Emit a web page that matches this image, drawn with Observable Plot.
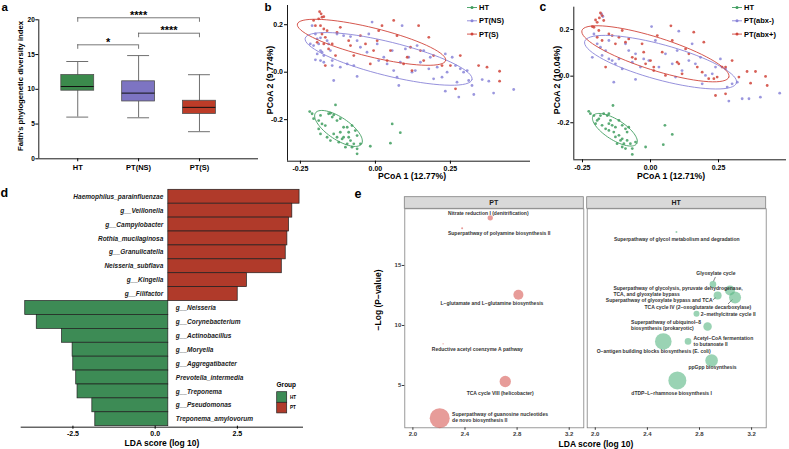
<!DOCTYPE html>
<html>
<head>
<meta charset="utf-8">
<script src="https://cdn.jsdelivr.net/npm/d3@7"></script>
<script src="https://cdn.jsdelivr.net/npm/@observablehq/plot@0.6"></script>
<style>
  html, body { margin: 0; padding: 0; background: white; }
  #fig { position: relative; width: 789px; height: 449px; background: white; overflow: hidden; }
</style>
</head>
<body>
<div id="fig"></div>
<script>
// ---------------- DATA ----------------
// Panel a: Faith's PD boxplots
const groupsA = ["HT", "PT(NS)", "PT(S)"];
const whiskerLow = [6.0, 5.9, 3.9];
const q1A = [9.8, 8.25, 6.45];
const medianA = [10.4, 9.45, 7.4];
const q3A = [12.05, 11.15, 8.35];
const whiskerHigh = [14.0, 14.85, 12.1];
const sigFrom = ["HT", "PT(NS)", "HT"];
const sigTo = ["PT(NS)", "PT(S)", "PT(S)"];
const sigLabel = ["*", "****", "****"];
const sigLevel = [16.4, 18.07, 20.29];

// Panel b: PCoA (smoking)
const groupsB = ["HT", "PT(NS)", "PT(S)"];
const bHT = [[-0.219,-0.166],[-0.211,-0.175],[-0.206,-0.196],[-0.189,-0.204],[-0.183,-0.182],[-0.178,-0.218],[-0.156,-0.175],[-0.150,-0.173],[-0.144,-0.189],[-0.139,-0.180],[-0.128,-0.204],[-0.117,-0.196],[-0.106,-0.232],[-0.094,-0.232],[-0.089,-0.253],[-0.078,-0.225],[-0.067,-0.246],[-0.061,-0.267],[-0.183,-0.260],[-0.161,-0.274],[-0.150,-0.288],[-0.139,-0.260],[-0.128,-0.274],[-0.122,-0.295],[-0.111,-0.281],[-0.106,-0.274],[-0.094,-0.302],[-0.083,-0.288],[-0.072,-0.302],[-0.061,-0.323],[-0.050,-0.302],[-0.061,-0.344],[-0.133,-0.138],[-0.017,-0.312],[0.056,-0.218],[0.050,-0.299],[0.083,-0.255],[-0.189,-0.239],[-0.167,-0.225],[-0.117,-0.253],[-0.089,-0.274],[-0.078,-0.316],[-0.100,-0.316]];
const bNS = [[-0.211,0.196],[-0.200,0.161],[-0.194,0.140],[-0.189,0.119],[-0.206,0.112],[-0.183,0.091],[-0.178,0.084],[-0.194,0.077],[-0.172,0.070],[-0.161,0.133],[-0.156,0.119],[-0.150,0.091],[-0.144,0.049],[-0.183,0.049],[-0.172,0.042],[-0.144,0.028],[-0.117,0.021],[-0.094,0.035],[-0.072,0.028],[-0.128,0.161],[-0.106,0.154],[-0.083,0.150],[-0.061,0.133],[-0.050,0.105],[-0.028,0.084],[-0.022,0.161],[-0.011,0.211],[0.006,0.119],[0.011,0.049],[0.028,0.063],[0.039,0.035],[0.056,0.091],[0.061,0.007],[0.072,-0.021],[0.083,0.042],[0.089,0.196],[0.100,0.098],[0.111,0.063],[0.122,0.000],[0.133,0.007],[0.139,0.112],[0.150,0.042],[0.161,0.091],[0.178,0.014],[0.183,0.063],[0.194,-0.028],[0.206,0.021],[0.222,-0.021],[0.233,0.077],[0.239,0.000],[0.256,0.063],[0.267,0.028],[0.272,-0.042],[0.283,0.014],[0.294,0.000],[0.306,0.007],[0.311,-0.035],[0.322,-0.056],[0.278,-0.105],[0.233,-0.080],[0.356,-0.031],[0.378,-0.038],[0.394,-0.088],[0.461,-0.073],[0.328,-0.094],[0.078,-0.056],[-0.139,-0.035],[-0.061,-0.018],[-0.183,0.145],[-0.217,0.119],[-0.200,0.052]];
const bS = [[-0.186,0.255],[-0.181,0.246],[-0.178,0.232],[-0.189,0.225],[-0.172,0.234],[-0.206,0.218],[-0.200,0.196],[-0.183,0.196],[-0.172,0.182],[-0.161,0.175],[-0.178,0.161],[-0.167,0.147],[-0.194,0.126],[-0.172,0.119],[-0.156,0.098],[-0.144,0.119],[-0.133,0.070],[-0.117,0.189],[-0.089,0.133],[-0.083,0.112],[-0.072,0.070],[-0.050,0.154],[-0.033,0.119],[-0.017,0.035],[-0.006,0.091],[0.006,0.133],[0.011,0.175],[0.022,0.196],[0.039,0.049],[0.050,0.091],[0.061,0.218],[0.072,0.154],[0.094,0.035],[0.106,0.063],[0.117,0.105],[0.144,0.196],[0.150,0.091],[0.161,0.049],[0.178,0.147],[0.194,0.070],[0.222,0.028],[0.250,0.028],[0.283,0.070],[0.267,-0.070],[0.344,0.028],[0.372,0.021],[0.414,0.004],[0.414,-0.038],[0.122,0.007],[-0.128,0.168],[-0.167,0.028]];
// ellipse: [cx, cy, major dx, major dy, minor dx, minor dy]
const bEllHT = [-0.123, -0.237, 0.077, -0.065, -0.020, -0.039];
const bEllNS = [0.044, 0.056, 0.278, -0.087, -0.013, -0.069];
const bEllS = [-0.013, 0.126, 0.247, -0.077, -0.012, -0.059];

// Panel c: PCoA (antibiotics)
const groupsC = ["HT", "PT(abx-)", "PT(abx+)"];
const cHT = [[-0.227,-0.151],[-0.221,-0.161],[-0.208,-0.169],[-0.202,-0.204],[-0.196,-0.190],[-0.190,-0.183],[-0.184,-0.169],[-0.172,-0.161],[-0.159,-0.169],[-0.153,-0.161],[-0.147,-0.190],[-0.141,-0.211],[-0.129,-0.219],[-0.116,-0.190],[-0.104,-0.211],[-0.092,-0.226],[-0.086,-0.240],[-0.080,-0.219],[-0.178,-0.211],[-0.165,-0.226],[-0.153,-0.233],[-0.135,-0.240],[-0.129,-0.261],[-0.116,-0.254],[-0.110,-0.276],[-0.104,-0.269],[-0.098,-0.290],[-0.086,-0.276],[-0.074,-0.290],[-0.067,-0.311],[-0.055,-0.283],[-0.092,-0.311],[-0.104,-0.304],[-0.067,-0.336],[-0.138,-0.126],[-0.018,-0.304],[0.053,-0.211],[0.080,-0.250],[0.047,-0.294],[-0.153,-0.204],[-0.123,-0.290]];
const cAm = [[-0.180,0.267],[-0.175,0.256],[-0.208,0.181],[-0.196,0.139],[-0.184,0.124],[-0.165,0.110],[-0.178,0.089],[-0.153,0.074],[-0.141,0.067],[-0.129,0.053],[-0.104,0.031],[-0.116,0.074],[-0.080,0.110],[-0.092,0.139],[-0.055,0.096],[-0.067,0.060],[-0.037,0.039],[-0.025,0.074],[-0.006,0.067],[0.004,0.213],[0.018,0.153],[0.031,0.039],[0.055,0.096],[0.080,0.053],[0.098,0.110],[0.116,0.024],[0.141,0.067],[0.153,0.139],[0.165,0.053],[0.184,0.081],[0.202,0.003],[0.227,0.010],[0.239,0.039],[0.257,0.074],[0.276,0.031],[0.282,-0.047],[0.300,-0.033],[0.319,-0.026],[0.288,-0.107],[0.337,-0.097],[0.362,-0.097],[0.404,-0.090],[0.475,-0.073],[0.092,-0.004],[0.190,-0.033],[-0.135,-0.026],[-0.055,-0.014],[0.104,0.193],[-0.214,0.081],[-0.153,0.153]];
const cAp = [[-0.184,0.271],[-0.178,0.260],[-0.188,0.250],[-0.202,0.241],[-0.196,0.231],[-0.208,0.210],[-0.214,0.213],[-0.172,0.239],[-0.190,0.196],[-0.196,0.167],[-0.178,0.153],[-0.153,0.181],[-0.141,0.174],[-0.116,0.167],[-0.104,0.196],[-0.092,0.146],[-0.080,0.160],[-0.067,0.081],[-0.055,0.074],[-0.031,0.139],[-0.025,0.103],[-0.018,0.053],[0.000,0.067],[0.012,0.039],[0.025,0.174],[0.043,0.103],[0.055,0.003],[0.075,0.216],[0.080,0.153],[0.098,0.060],[0.104,0.053],[0.116,0.010],[0.129,0.117],[0.141,0.096],[0.159,0.189],[0.172,0.039],[0.190,0.017],[0.196,0.146],[0.214,-0.011],[0.233,-0.011],[0.245,-0.004],[0.263,0.039],[0.276,0.039],[0.300,0.067],[0.325,-0.004],[0.355,0.020],[0.386,0.020],[0.423,-0.001],[0.368,-0.030],[0.429,-0.040],[0.239,-0.083],[0.276,-0.076],[0.012,0.024],[-0.165,0.039],[-0.129,0.139]];
const cEllHT = [-0.131, -0.230, 0.080, -0.060, -0.020, -0.036];
const cEllAm = [0.037, 0.060, 0.279, -0.089, -0.017, -0.073];
const cEllAp = [0.018, 0.096, 0.270, -0.100, -0.018, -0.067];

// Panel d: LEfSe LDA scores
const taxaPT = ["Haemophilus_parainfluenzae","g__Veillonella","g__Campylobacter","Rothia_mucilaginosa","g__Granulicatella","Neisseria_subflava","g__Kingella","g__Filifactor"];
const ldaPT = [4.39, 4.17, 4.07, 4.02, 3.97, 3.85, 2.79, 2.51];
const taxaHT = ["g__Neisseria","g__Corynebacterium","g__Actinobacillus","g__Moryella","g__Aggregatibacter","Prevotella_intermedia","g__Treponema","g__Pseudomonas","Treponema_amylovorum"];
const ldaHT = [-3.95, -3.60, -2.83, -2.51, -2.49, -2.40, -2.36, -1.91, -1.82];

// Panel e: pathway bubbles
const ptPathways = ["Nitrate reduction I (denitrification)","Superpathway of polyamine biosynthesis II","L\u2212glutamate and L\u2212glutamine biosynthesis","Reductive acetyl coenzyme A pathway","TCA cycle VIII (helicobacter)","Superpathway of guanosine nucleotides\nde novo biosynthesis II"];
const ptLDA = [2.594, 2.378, 2.810, 2.232, 2.709, 2.206];
const ptLogP = [18.97, 18.1, 12.56, 8.47, 5.33, 2.28];
const ptSize = [7, 1, 25, 0.5, 32, 100];
const ptLabelX = [2.579, 2.663, 2.607, 2.495, 2.670, 2.301];
const ptLabelY = [19.33, 17.72, 11.86, 8.0, 4.36, 2.33];
const ptLabelAnchor = ["middle","middle","middle","middle","middle","start"];

const htPathways = ["Superpathway of glycol metabolism and degradation","Glyoxylate cycle","Superpathway of glycolysis, pyruvate dehydrogenase,\nTCA, and glyoxylate bypass","Superpathway of glyoxylate bypass and TCA","TCA cycle IV (2\u2212oxoglutarate decarboxylase)","2\u2212methylcitrate cycle II","Superpathway of ubiquinol\u22128\nbiosynthesis (prokaryotic)","Acetyl\u2212CoA fermentation\nto butanoate II","O\u2212antigen building blocks biosynthesis (E. coli)","ppGpp biosynthesis","dTDP\u2212L\u2212rhamnose biosynthesis I"];
const htLDA = [2.623, 2.903, 3.034, 2.939, 3.073, 2.777, 2.862, 2.712, 2.522, 2.893, 2.630];
const htLogP = [17.78, 13.42, 12.92, 12.5, 12.33, 10.97, 9.92, 8.67, 8.67, 7.08, 5.42];
const htSize = [1, 11, 25, 16, 36, 9, 18, 11, 69, 40, 81];
const htLabelX = [2.625, 2.926, 2.139, 2.900, 2.787, 2.810, 2.275, 2.754, 2.448, 2.900, 2.586];
const htLabelY = [17.22, 14.36, 12.9, 12.08, 11.53, 10.97, 10.0, 8.71, 7.89, 6.5, 4.33];
const htLabelAnchor = ["middle","middle","start","end","middle","start","start","start","middle","middle","middle"];
const htLeadX1 = [2.922, 2.903, 3.019];
const htLeadY1 = [14.04, 12.14, 11.79];
const htLeadX2 = [2.907, 2.926, 3.053];
const htLeadY2 = [13.67, 12.33, 12.17];

// ---------------- STYLE ----------------
const FONT = "'Liberation Sans', Arial, Helvetica, sans-serif";
const boxColors = ["#3b8a4c", "#7d74c2", "#bd3c28"];
const pcoaColors = ["#3f9d5f", "#8a85d8", "#d0443a"];
const ldaGreen = "#3d8b55", ldaRed = "#b03a2a";
const BASE = 0.4;
const baseStyle = {background: "transparent", overflow: "visible", fontFamily: FONT};
const fig = document.getElementById("fig");
function mount(el, left, top) {
  el.style.position = "absolute";
  el.style.left = left + "px";
  el.style.top = top + "px";
  fig.appendChild(el);
}

// ---------------- PANEL A ----------------
const boxRows = groupsA.map((g, i) => ({g, i: i + 1, lo: whiskerLow[i], q1: q1A[i], med: medianA[i], q3: q3A[i], hi: whiskerHigh[i]}));
const sigRows = sigLabel.map((s, k) => ({a: groupsA.indexOf(sigFrom[k]) + 1, b: groupsA.indexOf(sigTo[k]) + 1, y: sigLevel[k], s}));
const gray = "#6f6f6f";
mount(Plot.plot({
  width: 260, height: 185,
  marginLeft: 38.3, marginRight: 2, marginTop: 19.3, marginBottom: 26.7,
  style: baseStyle,
  x: {domain: [0.36, 3.97], axis: null},
  y: {domain: [0, 20], axis: null},
  color: {domain: groupsA, range: boxColors},
  marks: [
    Plot.ruleX(boxRows, {x: "i", y1: "lo", y2: "hi", stroke: gray, strokeWidth: 1}),
    Plot.ruleY(boxRows, {y: "lo", x1: d => d.i - 0.18, x2: d => d.i + 0.18, stroke: gray, strokeWidth: 1}),
    Plot.ruleY(boxRows, {y: "hi", x1: d => d.i - 0.18, x2: d => d.i + 0.18, stroke: gray, strokeWidth: 1}),
    Plot.rect(boxRows, {x1: d => d.i - 0.27, x2: d => d.i + 0.27, y1: "q1", y2: "q3", fill: "g", stroke: "#505050", strokeWidth: 0.8}),
    Plot.ruleY(boxRows, {y: "med", x1: d => d.i - 0.27, x2: d => d.i + 0.27, stroke: "#111", strokeWidth: 1}),
    Plot.ruleX([0.36], {stroke: "black", strokeWidth: 0.9}),
    Plot.ruleY([0], {stroke: "black", strokeWidth: 0.9}),
    Plot.axisY({ticks: [0, 5, 10, 15, 20], tickFormat: d => String(d), tickSize: 3, tickPadding: 1, fontSize: 6.5, fontWeight: "bold", label: null}),
    Plot.axisX({ticks: [1, 2, 3], tickFormat: i => groupsA[i - 1], tickSize: 3, tickPadding: 3, fontSize: 7.5, fontWeight: "bold", label: null}),
    Plot.ruleY(sigRows, {y: "y", x1: "a", x2: "b", stroke: "#555", strokeWidth: 0.8}),
    Plot.ruleX(sigRows, {x: "a", y1: d => d.y - 0.65, y2: "y", stroke: "#555", strokeWidth: 0.8}),
    Plot.ruleX(sigRows, {x: "b", y1: d => d.y - 0.65, y2: "y", stroke: "#555", strokeWidth: 0.8}),
    Plot.text(sigRows, {x: d => (d.a + d.b) / 2, y: "y", text: "s", lineAnchor: "bottom", dy: 1, fontSize: 11, fontWeight: "bold"})
  ]
}), 0, 0);

// ---------------- PANELS B, C ----------------
function ellipse(p, g) {
  return d3.range(0, 361, 5).map(a => {
    const t = a * Math.PI / 180;
    return {g, x: p[0] + p[2] * Math.cos(t) + p[4] * Math.sin(t), y: p[1] + p[3] * Math.cos(t) + p[5] * Math.sin(t)};
  });
}
function pcoa({width, ml, mr, mt, mb, xd, yd, groups, pts, ells}) {
  const rows = pts.flatMap((arr, k) => arr.map(([x, y]) => ({g: groups[k], x, y})));
  const ellRows = ells.flatMap((p, k) => ellipse(p, groups[k]));
  return Plot.plot({
    width, height: 185, marginLeft: ml, marginRight: mr, marginTop: mt, marginBottom: mb,
    style: baseStyle,
    x: {domain: xd, axis: null},
    y: {domain: yd, axis: null},
    color: {domain: groups, range: pcoaColors},
    marks: [
      Plot.ruleX([xd[0]], {stroke: "black", strokeWidth: 0.9}),
      Plot.ruleY([yd[0]], {stroke: "black", strokeWidth: 0.9}),
      Plot.axisX({ticks: [-0.25, 0, 0.25], tickFormat: d => d.toFixed(2), tickSize: 3, tickPadding: 2, fontSize: 7, fontWeight: "bold", label: null}),
      Plot.axisY({ticks: [-0.2, 0, 0.2], tickFormat: d => d.toFixed(1), tickSize: 3, tickPadding: 1.5, fontSize: 7, fontWeight: "bold", label: null}),
      Plot.dot(rows, {x: "x", y: "y", fill: "g", r: 1.4, fillOpacity: 0.85}),
      Plot.line(ellRows, {x: "x", y: "y", z: "g", stroke: "g", strokeWidth: 0.9})
    ]
  });
}
mount(pcoa({width: 272, ml: 27, mr: 2, mt: 5, mb: 24.3, xd: [-0.293, 0.517], yd: [-0.375, 0.281],
  groups: groupsB, pts: [bHT, bNS, bS], ells: [bEllHT, bEllNS, bEllS]}), 260, 0);
mount(pcoa({width: 264, ml: 48.3, mr: 3, mt: 6.7, mb: 25.7, xd: [-0.282, 0.5], yd: [-0.359, 0.296],
  groups: groupsC, pts: [cHT, cAm, cAp], ells: [cEllHT, cEllAm, cEllAp]}), 525, 0);

// ---------------- PANEL D ----------------
const rowsD = [
  ...taxaPT.map((t, i) => ({t, v: ldaPT[i], g: "PT", i})),
  ...taxaHT.map((t, i) => ({t, v: ldaHT[i], g: "HT", i: i + taxaPT.length}))
];
mount(Plot.plot({
  width: 380, height: 264, marginLeft: 20.7, marginRight: 77, marginTop: 4.3, marginBottom: 23.3,
  style: baseStyle,
  x: {domain: [-4.073, 4.51], axis: null},
  y: {domain: [16.5, -0.5], axis: null},
  color: {domain: ["HT", "PT"], range: [ldaGreen, ldaRed]},
  marks: [
    Plot.rect(rowsD, {x1: BASE, x2: "v", y1: d => d.i - 0.5, y2: d => d.i + 0.5, fill: "g", stroke: "#1f1f1f", strokeWidth: 0.7}),
    Plot.text(rowsD.filter(d => d.g === "PT"), {x: BASE, y: "i", text: "t", textAnchor: "end", dx: -5, fontSize: 6.5, fontWeight: "bold", fontStyle: "italic", fill: "#1a1a1a"}),
    Plot.text(rowsD.filter(d => d.g === "HT"), {x: BASE, y: "i", text: "t", textAnchor: "start", dx: 7.5, fontSize: 6.5, fontWeight: "bold", fontStyle: "italic", fill: "#1a1a1a"}),
    Plot.ruleY([16.57], {stroke: "black", strokeWidth: 0.9}),
    Plot.axisX({ticks: [-2.5, 0, 2.5], tickFormat: d => d.toFixed(1), tickSize: 3, tickPadding: 1.5, fontSize: 7, fontWeight: "bold", label: null})
  ]
}), 0, 185);

// ---------------- PANEL E ----------------
function bubblePanel({width, ml, mr, names, lda, logp, size, lx, ly, anchor, fill, showY, leaders}) {
  const rows = names.map((n, i) => ({n, lda: lda[i], logp: logp[i], size: size[i], lx: lx[i], ly: ly[i], anchor: anchor[i]}));
  const marks = [
    Plot.frame({stroke: "#808080", strokeWidth: 0.8}),
    Plot.axisX({ticks: [2.0, 2.4, 2.8, 3.2], tickFormat: d => d.toFixed(1), tickSize: 2.5, tickPadding: 1.5, fontSize: 6, fontWeight: "bold", color: "#3a3a3a", label: null})
  ];
  if (showY) marks.push(Plot.axisY({ticks: [5, 10, 15], tickFormat: d => String(d), tickSize: 2.5, tickPadding: 1, fontSize: 6, fontWeight: "bold", color: "#3a3a3a", label: null}));
  if (leaders) marks.push(Plot.link(leaders, {x1: "x1", y1: "y1", x2: "x2", y2: "y2", stroke: "#333", strokeWidth: 0.6}));
  marks.push(Plot.dot(rows, {x: "lda", y: "logp", r: "size", fill, fillOpacity: 0.62, stroke: "none"}));
  for (const a of ["middle", "start", "end"]) {
    const sub = rows.filter(d => d.anchor === a);
    if (sub.length) marks.push(Plot.text(sub, {x: "lx", y: "ly", text: "n", textAnchor: a, fontSize: 5, fontWeight: "bold", fill: "#333", lineHeight: 1.2}));
  }
  return Plot.plot({
    width, height: 264, marginLeft: ml, marginRight: mr, marginTop: 23.3, marginBottom: 21.7,
    style: baseStyle,
    x: {domain: [1.938, 3.312], axis: null},
    y: {domain: [1.475, 19.72], axis: null},
    r: {type: "sqrt", domain: [0, 100], range: [0, 10]},
    marks
  });
}
mount(bubblePanel({width: 205, ml: 24.3, mr: 1.7, names: ptPathways, lda: ptLDA, logp: ptLogP, size: ptSize,
  lx: ptLabelX, ly: ptLabelY, anchor: ptLabelAnchor, fill: "#d8605b", showY: true}), 380, 185);
const htLeaders = htLeadX1.map((x1, k) => ({x1, y1: htLeadY1[k], x2: htLeadX2[k], y2: htLeadY2[k]}));
mount(bubblePanel({width: 204, ml: 1.7, mr: 23.3, names: htPathways, lda: htLDA, logp: htLogP, size: htSize,
  lx: htLabelX, ly: htLabelY, anchor: htLabelAnchor, fill: "#5cb886", showY: false, leaders: htLeaders}), 585, 185);

// ---------------- OVERLAY: titles, panel letters, legends, strips ----------------
const ov = d3.create("svg").attr("width", 789).attr("height", 449)
  .style("position", "absolute").style("left", "0px").style("top", "0px")
  .style("font-family", FONT).style("overflow", "visible");
function T(x, y, s, {size = 8, weight = "bold", anchor = "middle", rot = 0, fill = "black", baseline = "central", italic = false} = {}) {
  ov.append("text").attr("transform", `translate(${x},${y}) rotate(${rot})`)
    .attr("text-anchor", anchor).attr("dominant-baseline", baseline)
    .attr("font-size", size).attr("font-weight", weight).attr("fill", fill)
    .attr("font-style", italic ? "italic" : "normal").text(s);
}
// panel letters
T(1.5, 10.5, "a", {size: 11.5, anchor: "start", baseline: "auto"});
T(264.5, 10.5, "b", {size: 11.5, anchor: "start", baseline: "auto"});
T(539.5, 11, "c", {size: 12, anchor: "start", baseline: "auto"});
T(0.5, 197, "d", {size: 12.5, anchor: "start", baseline: "auto"});
T(354.5, 198, "e", {size: 12.5, anchor: "start", baseline: "auto"});
// axis titles
T(20, 86, "Faith's phylogenetic diversity index", {size: 7.7, rot: -90});
T(412, 176, "PCoA 1 (12.77%)", {size: 8.7});
T(270, 80, "PCoA 2 (9.774%)", {size: 8.7, rot: -90});
T(671, 176, "PCoA 1 (12.71%)", {size: 8.7});
T(557, 80, "PCoA 2 (10.04%)", {size: 8.7, rot: -90});
T(162, 443, "LDA score (log 10)", {size: 8.5});
T(596, 444, "LDA score (log 10)", {size: 8.5});
T(378, 300, "\u2212Log (P\u2212value)", {size: 8.5, rot: -90});
// PCoA legends
function pcoaLegend(x0, labels) {
  const ys = [7.5, 20.8, 34.1];
  labels.forEach((lab, k) => {
    ov.append("line").attr("x1", x0).attr("x2", x0 + 10).attr("y1", ys[k]).attr("y2", ys[k]).attr("stroke", pcoaColors[k]).attr("stroke-width", 0.9);
    ov.append("circle").attr("cx", x0 + 5).attr("cy", ys[k]).attr("r", 1.5).attr("fill", pcoaColors[k]);
    T(x0 + 12, ys[k], lab, {size: 7.5, anchor: "start"});
  });
}
pcoaLegend(467, groupsB);
pcoaLegend(732, groupsC);
// LDA legend
T(286.3, 384.3, "Group", {size: 6.5});
[["HT", ldaGreen], ["PT", ldaRed]].forEach(([lab, col], k) => {
  ov.append("rect").attr("x", 276.7).attr("y", 391.7 + k * 10.6).attr("width", 10).attr("height", 10.6)
    .attr("fill", col).attr("stroke", "#222").attr("stroke-width", 0.7);
  T(290, 397 + k * 10.6, lab, {size: 4.6, anchor: "start"});
});
// facet strips
[["PT", 404.3], ["HT", 586.7]].forEach(([lab, x]) => {
  ov.append("rect").attr("x", x).attr("y", 196.7).attr("width", 179).attr("height", 11.6)
    .attr("fill", "#d9d9d9").attr("stroke", "#808080").attr("stroke-width", 0.8);
  T(x + 89.5, 202.6, lab, {size: 7, fill: "#1a1a1a"});
});
fig.appendChild(ov.node());
</script>
</body>
</html>
